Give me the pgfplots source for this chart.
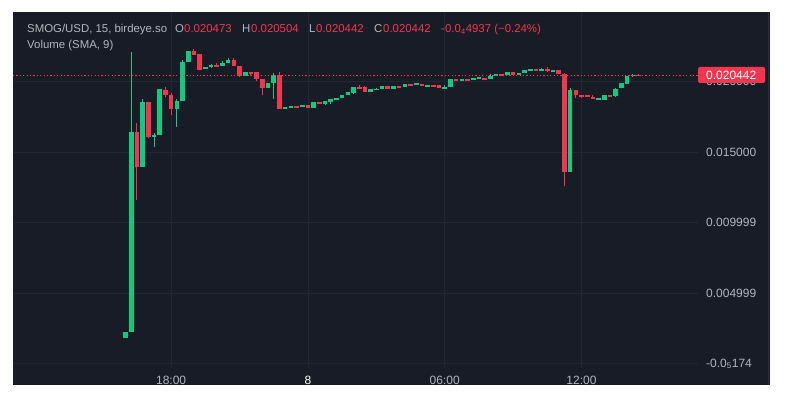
\documentclass[border=0pt]{standalone}
\usepackage{fontspec}
\setmainfont{Liberation Sans}
\usepackage{pgfplots}
\usepackage{pgfplotstable}
\pgfplotsset{compat=1.18}
\definecolor{bgc}{HTML}{181C27}
\definecolor{gridc}{HTML}{232733}
\definecolor{sepc}{HTML}{2A2E39}
\definecolor{txtc}{HTML}{B2B5BE}
\definecolor{cg}{HTML}{0ECB81}
\definecolor{cr}{HTML}{F23650}

% candle index, open, high, low, close (price in units of 0.001)
\pgfplotstableread{
x o h l c
1 1.809 2.234 1.809 2.234
2 2.234 22.092 2.234 16.418
4 13.936 18.759 13.936 18.546
6 16.135 16.348 15.355 16.206
7 16.206 19.468 16.206 19.468
10 18.050 18.759 16.773 18.617
11 18.617 21.525 18.617 21.383
12 21.383 22.163 21.383 22.163
15 20.887 21.028 20.887 21.028
16 21.028 21.241 20.957 21.170
18 21.099 21.454 21.099 21.312
19 21.312 21.667 21.312 21.525
22 20.390 20.674 20.390 20.674
26 19.539 19.894 19.539 19.894
27 19.894 20.603 18.759 20.461
29 18.050 18.191 18.050 18.191
30 18.191 18.262 18.191 18.262
32 18.191 18.333 18.191 18.333
34 18.121 18.546 18.121 18.546
36 18.404 18.617 18.333 18.617
37 18.546 18.759 18.404 18.759
38 18.759 18.830 18.759 18.830
39 18.830 19.043 18.830 19.043
40 19.043 19.255 19.043 19.255
41 19.184 19.610 19.113 19.610
44 19.255 19.468 19.255 19.468
45 19.433 19.539 19.433 19.468
46 19.468 19.681 19.468 19.681
48 19.468 19.681 19.468 19.681
50 19.610 19.823 19.610 19.823
52 19.752 19.894 19.752 19.894
54 19.681 19.752 19.681 19.752
57 19.539 19.752 19.539 19.610
58 19.610 20.177 19.610 20.177
60 20.106 20.177 20.035 20.177
62 20.177 20.248 20.177 20.248
63 20.248 20.284 20.248 20.284
65 20.177 20.532 20.177 20.390
66 20.390 20.532 20.390 20.532
68 20.461 20.674 20.461 20.674
70 20.461 20.603 20.461 20.603
71 20.603 20.816 20.603 20.816
72 20.745 20.887 20.745 20.887
74 20.816 20.957 20.816 20.887
76 20.745 20.816 20.745 20.816
79 13.582 19.539 13.582 19.397
84 18.759 18.830 18.688 18.830
85 18.688 19.043 18.688 19.043
87 18.972 19.539 18.901 19.468
88 19.539 19.894 19.539 19.894
89 19.823 20.390 19.823 20.390
90 20.426 20.532 20.319 20.461
}\greentab

\pgfplotstableread{
x o h l c
3 16.418 17.057 11.596 13.936
5 18.546 18.546 15.993 16.064
8 19.397 19.610 18.901 19.043
9 19.043 19.184 17.624 18.050
13 22.163 22.305 21.879 21.879
14 21.950 21.950 20.816 20.816
17 21.170 21.312 21.099 21.099
20 21.525 21.667 21.099 21.099
21 21.099 21.099 20.319 20.390
23 20.674 20.674 20.390 20.532
24 20.674 20.674 20.035 20.177
25 20.177 20.177 19.043 19.539
28 20.461 20.674 18.050 18.050
31 18.262 18.262 18.191 18.191
33 18.333 18.333 18.121 18.121
35 18.546 18.546 18.404 18.404
42 19.610 19.752 19.539 19.539
43 19.610 19.681 19.255 19.255
47 19.681 19.681 19.468 19.468
49 19.681 19.681 19.610 19.610
51 19.823 19.823 19.681 19.752
53 19.823 19.823 19.681 19.681
55 19.752 19.752 19.681 19.681
56 19.752 19.752 19.539 19.539
59 20.177 20.177 20.106 20.106
61 20.177 20.177 20.106 20.106
64 20.248 20.248 20.177 20.177
67 20.532 20.532 20.461 20.461
69 20.674 20.674 20.461 20.461
73 20.887 20.887 20.816 20.816
75 20.887 21.028 20.674 20.745
77 20.816 20.816 20.532 20.532
78 20.532 20.603 12.589 13.582
80 19.397 19.397 18.830 19.043
81 19.043 19.043 18.830 18.972
82 19.043 19.043 18.901 18.901
83 18.901 19.043 18.759 18.759
86 19.043 19.043 18.972 18.972
91 20.473 20.504 20.442 20.442
}\redtab

\begin{document}
\begin{tikzpicture}
\fill[white] (0,0) rectangle (789pt,399pt);
\useasboundingbox (0,0) rectangle (789pt,399pt);
\fill[bgc] (13pt,14pt) rectangle (770pt,387pt);
\draw[sepc, line width=0.8pt] (768.5pt,14pt) -- (768.5pt,387pt);
\begin{axis}[
  at={(13pt,31pt)}, anchor=south west,
  scale only axis, width=685pt, height=356pt,
  xmin=-18.74, xmax=101.44, ymin=-0.319, ymax=24.93,
  axis line style={draw=none},
  major tick length=0pt,
  xtick={9,33,57,81},
  xticklabels={18:00,{\color{white}8},06:00,12:00},
  ytick={-0.0174,4.999,9.999,15,20},
  yticklabels={-0.0\textsubscript{5}174,0.004999,0.009999,0.015000,0.020000},
  yticklabel pos=right,
  grid=major,
  major grid style={gridc, line width=0.8pt},
  ticklabel style={txtc, font=\fontsize{12}{14}\selectfont},
  yticklabel style={anchor=west, inner sep=0pt, xshift=8pt},
  xticklabel style={anchor=base, inner sep=0pt, yshift=-16pt},
  clip=false,
]
% wicks
\addplot[forget plot, draw=none, mark=none,
  error bars/.cd, y dir=both, y explicit, error mark=none,
  error bar style={draw=cg, line width=1pt}]
  table[x=x, y expr={(\thisrow{h}+\thisrow{l})/2}, y error expr={(\thisrow{h}-\thisrow{l})/2}]{\greentab};
\addplot[forget plot, draw=none, mark=none,
  error bars/.cd, y dir=both, y explicit, error mark=none,
  error bar style={draw=cr, line width=1pt}]
  table[x=x, y expr={(\thisrow{h}+\thisrow{l})/2}, y error expr={(\thisrow{h}-\thisrow{l})/2}]{\redtab};
% bodies
\addplot[forget plot, draw=none, mark=none,
  error bars/.cd, y dir=both, y explicit, error mark=none,
  error bar style={draw=cg, line width=4.6pt}]
  table[x=x, y expr={(\thisrow{o}+\thisrow{c})/2}, y error expr={max(abs(\thisrow{o}-\thisrow{c})/2,0.036)}]{\greentab};
\addplot[forget plot, draw=none, mark=none,
  error bars/.cd, y dir=both, y explicit, error mark=none,
  error bar style={draw=cr, line width=4.6pt}]
  table[x=x, y expr={(\thisrow{o}+\thisrow{c})/2}, y error expr={max(abs(\thisrow{o}-\thisrow{c})/2,0.036)}]{\redtab};
% last price line
\addplot[cr, line width=0.8pt, dash pattern=on 1.2pt off 2.2pt] coordinates {(-18.74,20.442) (101.44,20.442)};
\end{axis}
% last price label
\fill[cr, rounded corners=1.5pt] (698pt,316pt) rectangle (765pt,332pt);
\node[anchor=west, inner sep=0pt, white, font=\fontsize{12}{14}\selectfont] at (706pt,324pt) {0.020442};
% header
\begin{scope}[every node/.style={anchor=base west, inner sep=0pt, font=\fontsize{11.4}{14}\selectfont}]
\node[txtc] at (27pt,366pt) {SMOG/USD, 15, birdeye.so};
\node[txtc] at (175pt,366pt) {O};
\node[cr] at (184pt,366pt) {0.020473};
\node[txtc] at (242pt,366pt) {H};
\node[cr] at (251pt,366pt) {0.020504};
\node[txtc] at (309pt,366pt) {L};
\node[cr] at (316pt,366pt) {0.020442};
\node[txtc] at (374pt,366pt) {C};
\node[cr] at (383pt,366pt) {0.020442};
\node[cr] at (441pt,366pt) {-0.0\textsubscript{4}4937 (−0.24\%)};
\node[txtc] at (27pt,350pt) {Volume (SMA, 9)};
\end{scope}
\end{tikzpicture}
\end{document}
